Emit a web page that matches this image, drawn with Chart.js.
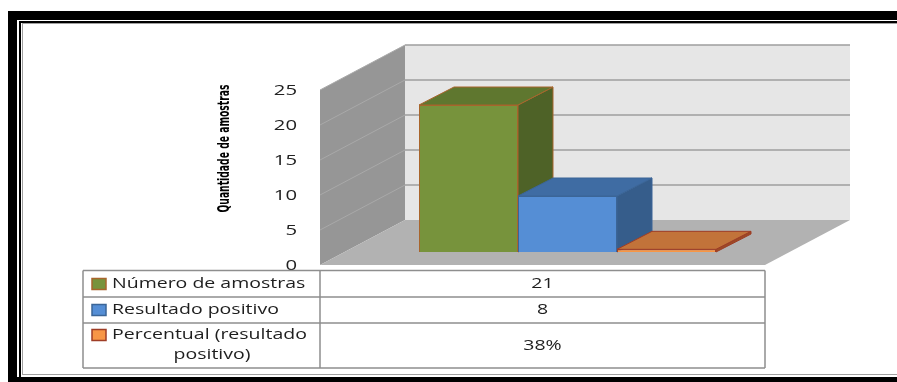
<!DOCTYPE html>
<html>
<head>
<meta charset="utf-8">
<script src="https://cdn.jsdelivr.net/npm/chart.js@4.4.1/dist/chart.umd.min.js"></script>
<style>
  html, body { margin: 0; padding: 0; background: #ffffff; }
  canvas { display: block; }
</style>
</head>
<body>
<canvas id="chart" width="897" height="382"></canvas>
<script>
// ---- data ----
const categories = ['Amostras'];
const seriesNames = ['Número de amostras', 'Resultado positivo', 'Percentual (resultado positivo)'];
const seriesTableLines = [['Número de amostras'], ['Resultado positivo'], ['Percentual (resultado', 'positivo)']];
const numeroAmostras = [21];
const resultadoPositivo = [8];
const percentualPositivo = [0.38];
const yTicks = [0, 5, 10, 15, 20, 25];
const axisTitle = 'Quantidade de amostras';

// values shown in the data table under the plot
const tableValues = [
  String(numeroAmostras[0]),
  String(resultadoPositivo[0]),
  Math.round(percentualPositivo[0] * 100) + '%'
];

// ---- styling ----
const palette = [
  { front: '#77933c', top: '#5f772f', side: '#4e6227', border: '#a8652c' },
  { front: '#558ed5', top: '#3f6ca3', side: '#365d8b', border: '#3b6597' },
  { front: '#f79646', top: '#c2733a', side: '#9c4a25', border: '#9e3d26' }
];

// 3D offsets relative to the plane the bar fronts stand on
const FRONT = { dx: -25, dy: 13 };   // front edge of the floor
const BACK = { dx: 60, dy: -32 };    // back wall
const BAR_DEPTH = { dx: 35, dy: -18 };

const TEXT_FONT = '"Open Sans", "DejaVu Sans", sans-serif';

function stretchedText(ctx, str, x, y, font, sx, align, color) {
  ctx.save();
  ctx.font = font;
  ctx.fillStyle = color;
  ctx.textBaseline = 'middle';
  ctx.textAlign = 'left';
  const w = ctx.measureText(str).width * sx;
  const left = align === 'center' ? x - w / 2 : (align === 'right' ? x - w : x);
  ctx.translate(left, y);
  ctx.scale(sx, 1);
  ctx.fillText(str, 0, 0);
  ctx.restore();
}

function poly(ctx, pts, fill, stroke, lw) {
  ctx.beginPath();
  ctx.moveTo(pts[0][0], pts[0][1]);
  for (let i = 1; i < pts.length; i++) ctx.lineTo(pts[i][0], pts[i][1]);
  ctx.closePath();
  if (fill) { ctx.fillStyle = fill; ctx.fill(); }
  if (stroke) { ctx.strokeStyle = stroke; ctx.lineWidth = lw || 1; ctx.stroke(); }
}

const scene3d = {
  id: 'scene3d',
  beforeDraw(chart) {
    const ctx = chart.ctx;
    const W = chart.width;
    const ys = chart.scales.y;
    const ca = chart.chartArea;
    const L = ca.left, R = ca.right;
    const y0 = ys.getPixelForValue(0);
    const yMax = ys.getPixelForValue(ys.max);

    ctx.save();
    // page frame
    ctx.fillStyle = '#000000';
    ctx.fillRect(8, 11, W - 8, 9);
    ctx.fillRect(8, 11, 9, 371);
    ctx.fillRect(19, 21, W - 19, 2);
    ctx.fillRect(19, 21, 2, 356);
    ctx.fillRect(17, 377, W - 17, 5);
    ctx.fillStyle = '#a0a0a0';
    ctx.fillRect(22, 23, W - 22, 1);
    ctx.fillRect(22, 23, 1, 352);
    ctx.fillRect(22, 374, W - 22, 1);

    // walls and floor
    poly(ctx, [[L + FRONT.dx, y0 + FRONT.dy], [L + FRONT.dx, yMax + FRONT.dy],
               [L + BACK.dx, yMax + BACK.dy], [L + BACK.dx, y0 + BACK.dy]], '#969696');
    poly(ctx, [[L + BACK.dx, yMax + BACK.dy], [R + BACK.dx, yMax + BACK.dy],
               [R + BACK.dx, y0 + BACK.dy], [L + BACK.dx, y0 + BACK.dy]], '#e6e6e6');

    // gridlines on back and side wall
    yTicks.forEach(v => {
      if (v === 0) return;
      const py = ys.getPixelForValue(v);
      ctx.beginPath();
      ctx.moveTo(L + BACK.dx, py + BACK.dy);
      ctx.lineTo(R + BACK.dx, py + BACK.dy);
      ctx.strokeStyle = '#9e9e9e';
      ctx.lineWidth = 1.5;
      ctx.stroke();
      ctx.beginPath();
      ctx.moveTo(L + FRONT.dx, py + FRONT.dy);
      ctx.lineTo(L + BACK.dx, py + BACK.dy);
      ctx.strokeStyle = '#a9a9a9';
      ctx.lineWidth = 1;
      ctx.stroke();
    });

    poly(ctx, [[L + FRONT.dx, y0 + FRONT.dy], [R + FRONT.dx, y0 + FRONT.dy],
               [R + BACK.dx, y0 + BACK.dy], [L + BACK.dx, y0 + BACK.dy]], '#b2b2b2');

    // y tick labels on the front plane
    yTicks.forEach(v => {
      const py = ys.getPixelForValue(v) + FRONT.dy;
      stretchedText(ctx, String(v), 297, py + 1, '14px ' + TEXT_FONT, 1.45, 'right', '#222222');
    });

    // axis title, rotated
    ctx.save();
    ctx.font = 'bold 12px "Liberation Sans Narrow", "DejaVu Sans Condensed", "Liberation Sans", sans-serif';
    const tw = ctx.measureText(axisTitle).width;
    ctx.translate(225, (yMax + y0) / 2 + FRONT.dy - 29);
    ctx.rotate(-Math.PI / 2);
    ctx.scale(128 / tw, 1.3);
    ctx.fillStyle = '#000000';
    ctx.textAlign = 'center';
    ctx.textBaseline = 'middle';
    ctx.fillText(axisTitle, 0, 0);
    ctx.restore();

    // data table
    const tLeft = 83, tDiv = L + FRONT.dx, tRight = R + FRONT.dx;
    const rows = [270.5, 297, 323, 368];
    ctx.fillStyle = '#ffffff';
    ctx.fillRect(tLeft, rows[0], tRight - tLeft, rows[3] - rows[0]);
    ctx.strokeStyle = '#8e8e8e';
    ctx.lineWidth = 1.5;
    ctx.beginPath();
    rows.forEach(r => { ctx.moveTo(tLeft, r); ctx.lineTo(tRight, r); });
    [tLeft, tDiv, tRight].forEach(c => { ctx.moveTo(c, rows[0]); ctx.lineTo(c, rows[3]); });
    ctx.stroke();

    const labelCentres = [[284], [310], [335, 355]];
    const valueCentres = [284, 310, 346];
    seriesTableLines.forEach((lines, i) => {
      const cy = labelCentres[i][0];
      ctx.fillStyle = palette[i].front;
      ctx.fillRect(92, cy - 5.5, 14, 11);
      ctx.strokeStyle = palette[i].border;
      ctx.lineWidth = 1.5;
      ctx.strokeRect(92, cy - 5.5, 14, 11);
      lines.forEach((ln, k) => {
        if (k === 0) {
          stretchedText(ctx, ln, 112, labelCentres[i][k], '15px ' + TEXT_FONT, 1.3, 'left', '#1e1e1e');
        } else {
          stretchedText(ctx, ln, 212, labelCentres[i][k], '15px ' + TEXT_FONT, 1.3, 'center', '#1e1e1e');
        }
      });
      stretchedText(ctx, tableValues[i], (tDiv + tRight) / 2, valueCentres[i], '15px ' + TEXT_FONT, 1.3, 'center', '#1e1e1e');
    });
    ctx.restore();
  },
  beforeDatasetsDraw(chart) {
    // top and side faces of each bar, left to right
    const ctx = chart.ctx;
    ctx.save();
    chart.data.datasets.forEach((ds, i) => {
      const meta = chart.getDatasetMeta(i);
      meta.data.forEach(el => {
        const p = el.getProps(['x', 'y', 'base', 'width'], true);
        const l = p.x - p.width / 2, r = p.x + p.width / 2;
        const c = palette[i];
        poly(ctx, [[r, p.y], [r, p.base], [r + BAR_DEPTH.dx, p.base + BAR_DEPTH.dy],
                   [r + BAR_DEPTH.dx, p.y + BAR_DEPTH.dy]], c.side, c.border, 1);
        poly(ctx, [[l, p.y], [r, p.y], [r + BAR_DEPTH.dx, p.y + BAR_DEPTH.dy],
                   [l + BAR_DEPTH.dx, p.y + BAR_DEPTH.dy]], c.top, c.border, 1);
      });
    });
    ctx.restore();
  }
};

const seriesData = [numeroAmostras, resultadoPositivo, percentualPositivo];

new Chart(document.getElementById('chart'), {
  type: 'bar',
  data: {
    labels: categories,
    datasets: seriesData.map((d, i) => ({
      label: seriesNames[i],
      data: d,
      backgroundColor: palette[i].front,
      borderColor: palette[i].border,
      borderWidth: 1
    }))
  },
  options: {
    responsive: false,
    animation: false,
    devicePixelRatio: 1,
    layout: { padding: { left: 345, right: 107, top: 77, bottom: 130 } },
    datasets: { bar: { categoryPercentage: 297 / 445, barPercentage: 1 } },
    scales: {
      x: { display: false },
      y: { display: false, min: 0, max: 25 }
    },
    plugins: { legend: { display: false }, tooltip: { enabled: false } }
  },
  plugins: [scene3d]
});
</script>
</body>
</html>
